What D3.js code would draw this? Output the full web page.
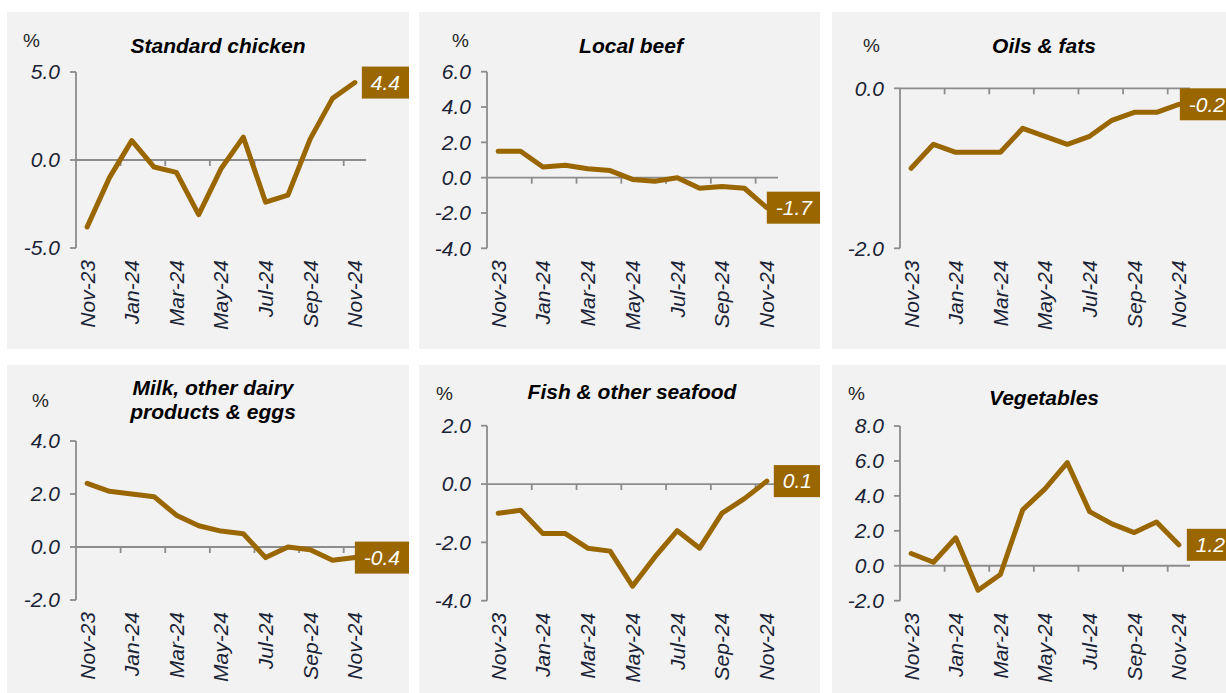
<!DOCTYPE html>
<html>
<head>
<meta charset="utf-8">
<script src="https://cdn.jsdelivr.net/npm/d3@7"></script>
<style>
  html, body { margin: 0; padding: 0; background: #ffffff; }
  svg { display: block; }
  text { font-family: "Liberation Sans", Arial, sans-serif; }
</style>
</head>
<body>
<svg id="chart" width="1226" height="693"></svg>
<script>
// ---------------- DATA ----------------
const months = ["Nov-23","Dec-23","Jan-24","Feb-24","Mar-24","Apr-24","May-24","Jun-24","Jul-24","Aug-24","Sep-24","Oct-24","Nov-24"];
const chicken    = [-3.8, -1.0, 1.1, -0.4, -0.7, -3.1, -0.5, 1.3, -2.4, -2.0, 1.2, 3.5, 4.4];
const beef       = [1.5, 1.5, 0.6, 0.7, 0.5, 0.4, -0.1, -0.2, 0.0, -0.6, -0.5, -0.6, -1.7];
const oils       = [-1.0, -0.7, -0.8, -0.8, -0.8, -0.5, -0.6, -0.7, -0.6, -0.4, -0.3, -0.3, -0.2];
const dairy      = [2.4, 2.1, 2.0, 1.9, 1.2, 0.8, 0.6, 0.5, -0.4, 0.0, -0.1, -0.5, -0.4];
const fish       = [-1.0, -0.9, -1.7, -1.7, -2.2, -2.3, -3.5, -2.5, -1.6, -2.2, -1.0, -0.5, 0.1];
const vegetables = [0.7, 0.2, 1.6, -1.4, -0.5, 3.2, 4.4, 5.9, 3.1, 2.4, 1.9, 2.5, 1.2];

const titles = [["Standard chicken"], ["Local beef"], ["Oils & fats"],
                ["Milk, other dairy", "products & eggs"], ["Fish & other seafood"], ["Vegetables"]];
const seriesList = [chicken, beef, oils, dairy, fish, vegetables];
const yTicksList = [[-5, 0, 5], [-4, -2, 0, 2, 4, 6], [-2, 0], [-2, 0, 2, 4], [-4, -2, 0, 2], [-2, 0, 2, 4, 6, 8]];
const xLabelMonths = ["Nov-23","Jan-24","Mar-24","May-24","Jul-24","Sep-24","Nov-24"];

// ---------------- LAYOUT ----------------
const layout = [
  {bx: 7,   by: 12,  bw: 402, bh: 337, left: 76,  right: 366,  top: 72,    bottom: 248,   titleX: 218,  titleY: 53,  pctX: 23,  pctY: 47,  labelDx: 7},
  {bx: 419, by: 12,  bw: 401, bh: 337, left: 487, right: 778,  top: 71.7,  bottom: 248.3, titleX: 631,  titleY: 53,  pctX: 452, pctY: 47,  labelDx: 0},
  {bx: 832, by: 12,  bw: 394, bh: 337, left: 900, right: 1190, top: 88.3,  bottom: 248.3, titleX: 1044, titleY: 53,  pctX: 863, pctY: 52,  labelDx: 1},
  {bx: 7,   by: 365, bw: 402, bh: 328, left: 76,  right: 366,  top: 441,   bottom: 600,   titleX: 213,  titleY: 395, pctX: 32,  pctY: 407, labelDx: 0},
  {bx: 419, by: 365, bw: 401, bh: 328, left: 487, right: 778,  top: 425.7, bottom: 600.7, titleX: 632,  titleY: 399, pctX: 436, pctY: 400, labelDx: 7},
  {bx: 832, by: 365, bw: 394, bh: 328, left: 900, right: 1190, top: 426,   bottom: 600.7, titleX: 1044, titleY: 405, pctX: 848, pctY: 400, labelDx: 8}
];

const LINE = "#996600";
const AXIS = "#8c8c8c";
const TICKTXT = "#1a2336";
const fmt = v => v.toFixed(1);

const svg = d3.select("#chart");

seriesList.forEach((values, i) => {
  const L = layout[i];
  const g = svg.append("g");
  const clipId = "clip" + i;
  svg.append("clipPath").attr("id", clipId)
    .append("rect").attr("x", L.bx).attr("y", L.by).attr("width", L.bw).attr("height", L.bh);

  g.append("rect").attr("x", L.bx).attr("y", L.by).attr("width", L.bw).attr("height", L.bh)
    .attr("fill", "#f2f2f2");

  const ticks = yTicksList[i];
  const y = d3.scaleLinear().domain(d3.extent(ticks)).range([L.bottom, L.top]);
  const xb = d3.scaleBand().domain(months).range([L.left, L.right]).padding(0);
  const cx = m => xb(m) + xb.bandwidth() / 2;

  // y axis line + ticks
  g.append("line").attr("x1", L.left).attr("x2", L.left).attr("y1", L.top).attr("y2", L.bottom)
    .attr("stroke", AXIS).attr("stroke-width", 1.8);
  g.selectAll(".yt").data(ticks).enter().append("line")
    .attr("x1", L.left - 6).attr("x2", L.left).attr("y1", d => y(d)).attr("y2", d => y(d))
    .attr("stroke", AXIS).attr("stroke-width", 1.8);
  g.selectAll(".ytl").data(ticks).enter().append("text")
    .attr("x", L.left - 16).attr("y", d => y(d)).attr("dy", "0.35em")
    .attr("text-anchor", "end").attr("font-size", 21).attr("font-style", "italic")
    .attr("fill", TICKTXT).text(fmt);

  // zero line (category axis)
  const y0 = y(0);
  g.append("line").attr("x1", L.left).attr("x2", L.right).attr("y1", y0).attr("y2", y0)
    .attr("stroke", AXIS).attr("stroke-width", 1.8);
  const bIdx = d3.range(2, months.length, 2);
  g.selectAll(".xt").data(bIdx).enter().append("line")
    .attr("x1", d => L.left + d * xb.step()).attr("x2", d => L.left + d * xb.step())
    .attr("y1", y0).attr("y2", y0 + 6)
    .attr("stroke", AXIS).attr("stroke-width", 1.8);

  // x labels
  g.selectAll(".xl").data(xLabelMonths).enter().append("text")
    .attr("transform", d => `translate(${cx(d)},${L.bottom + 12}) rotate(-90)`)
    .attr("dy", "0.35em").attr("text-anchor", "end")
    .attr("font-size", 21).attr("font-style", "italic").attr("fill", TICKTXT)
    .text(d => d);

  // line
  const lineGen = d3.line().x((d, k) => cx(months[k])).y(d => y(d));
  g.append("path").datum(values).attr("d", lineGen)
    .attr("fill", "none").attr("stroke", LINE).attr("stroke-width", 5)
    .attr("stroke-linejoin", "round").attr("stroke-linecap", "round");

  // end label box
  const last = values[values.length - 1];
  const px = cx(months[months.length - 1]);
  const py = y(last);
  const boxLeft = px + L.labelDx;
  const lg = g.append("g").attr("clip-path", `url(#${clipId})`);
  lg.append("rect").attr("x", boxLeft).attr("y", py - 16)
    .attr("width", L.bx + L.bw - boxLeft).attr("height", 32).attr("fill", LINE);
  lg.append("text").attr("x", boxLeft + 9).attr("y", py).attr("dy", "0.35em")
    .attr("font-size", 21).attr("font-style", "italic").attr("fill", "#ffffff")
    .text(fmt(last));

  // title
  const tt = g.append("text").attr("x", L.titleX).attr("y", L.titleY)
    .attr("text-anchor", "middle").attr("font-size", 21).attr("font-weight", "bold")
    .attr("font-style", "italic").attr("fill", "#000000");
  titles[i].forEach((t, k) => {
    tt.append("tspan").attr("x", L.titleX).attr("dy", k === 0 ? 0 : 24).text(t);
  });

  // percent unit
  g.append("text").attr("x", L.pctX).attr("y", L.pctY)
    .attr("font-size", 19).attr("fill", "#262626").text("%");
});
</script>
</body>
</html>
